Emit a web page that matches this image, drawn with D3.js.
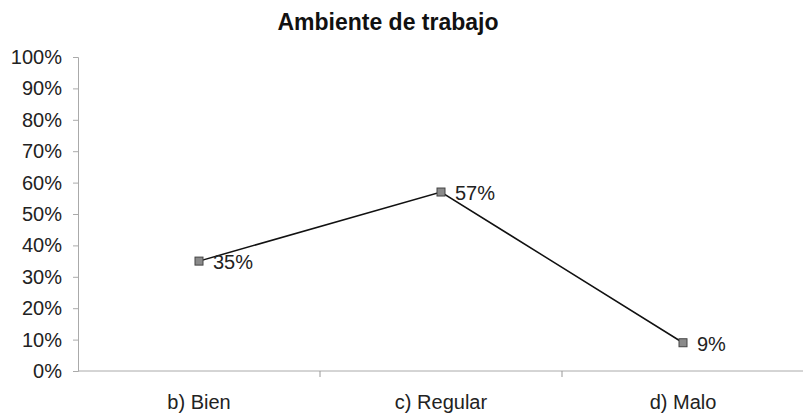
<!DOCTYPE html>
<html>
<head>
<meta charset="utf-8">
<script src="https://cdn.jsdelivr.net/npm/d3@7"></script>
<style>
  body { margin: 0; background: #fff; }
  text { font-family: "Liberation Sans", Arial, sans-serif; fill: #222; }
</style>
</head>
<body>
<svg id="chart" width="803" height="413"></svg>
<script>
var categories = ["b) Bien", "c) Regular", "d) Malo"];
var values = [0.35, 0.57, 0.09];
var yTicks = [0, 0.1, 0.2, 0.3, 0.4, 0.5, 0.6, 0.7, 0.8, 0.9, 1];
var title = "Ambiente de trabajo";

var svg = d3.select("#chart");

var plotLeft = 78, plotRight = 804, plotTop = 57, plotBottom = 371;

var y = d3.scaleLinear().domain([0, 1]).range([plotBottom, plotTop]);

var band = d3.scaleBand().domain(categories).range([plotLeft, plotRight]);
var x = d => band(d) + band.bandwidth() / 2;

var pct = d3.format(".0%");

svg.append("text")
    .attr("x", 388)
    .attr("y", 30)
    .attr("font-size", "23px")
    .attr("font-weight", "bold")
    .style("text-anchor", "middle")
    .style("fill", "#111")
    .text(title);

// y axis
var yAxis = svg.append("g")
    .attr("transform", "translate(" + plotLeft + ",0)")
    .call(d3.axisLeft(y).tickValues(yTicks).tickFormat(pct).tickSize(5).tickPadding(11));
yAxis.select(".domain").attr("stroke", "#aaa");
yAxis.selectAll(".tick line").attr("stroke", "#aaa");
yAxis.selectAll(".tick text")
    .attr("font-size", "20px")
    .attr("font-family", "Liberation Sans, Arial, sans-serif")
    .style("fill", "#222");

// x axis line, ticks between categories
var xg = svg.append("g");
xg.append("line")
    .attr("x1", plotLeft).attr("x2", plotRight)
    .attr("y1", plotBottom).attr("y2", plotBottom)
    .attr("stroke", "#aaa");
xg.selectAll(".xtick")
  .data(categories)
  .enter()
  .append("line")
    .attr("x1", d => band(d) + band.bandwidth())
    .attr("x2", d => band(d) + band.bandwidth())
    .attr("y1", plotBottom)
    .attr("y2", plotBottom + 6)
    .attr("stroke", "#999");
xg.selectAll(".xlabel")
  .data(categories)
  .enter()
  .append("text")
    .attr("x", d => x(d))
    .attr("y", 409)
    .attr("font-size", "20px")
    .style("text-anchor", "middle")
    .text(d => d);

var pts = categories.map((c, i) => ({ cat: c, val: values[i] }));

var line = d3.line()
    .x(d => x(d.cat))
    .y(d => y(d.val));

svg.append("path")
    .datum(pts)
    .attr("d", line)
    .attr("fill", "none")
    .attr("stroke", "#111")
    .attr("stroke-width", 1.5);

svg.selectAll(".marker")
  .data(pts)
  .enter()
  .append("rect")
    .attr("x", d => x(d.cat) - 4)
    .attr("y", d => y(d.val) - 4)
    .attr("width", 8)
    .attr("height", 8)
    .attr("fill", "#8a8a8a")
    .attr("stroke", "#444")
    .attr("stroke-width", 1);

svg.selectAll(".val")
  .data(pts)
  .enter()
  .append("text")
    .attr("x", d => x(d.cat) + 14)
    .attr("y", d => y(d.val) + 8)
    .attr("font-size", "20px")
    .text(d => pct(d.val));
</script>
</body>
</html>
